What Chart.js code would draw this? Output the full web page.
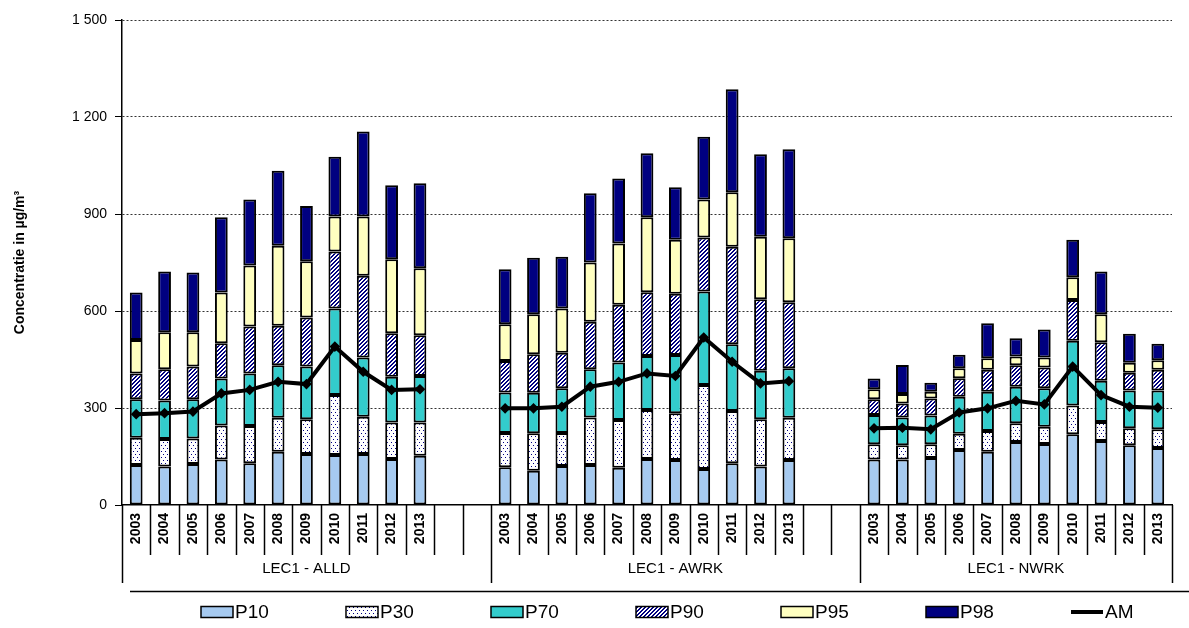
<!DOCTYPE html>
<html>
<head>
<meta charset="utf-8">
<script src="https://cdn.jsdelivr.net/npm/chart.js@4/dist/chart.umd.min.js"></script>
<style>
  html, body { margin: 0; padding: 0; background: #fff; }
  #wrap { width: 1189px; height: 628px; }
</style>
</head>
<body>
<div id="wrap"><canvas id="chart" width="1189" height="628"></canvas></div>
<script>
const years = ['2003', '2004', '2005', '2006', '2007', '2008', '2009', '2010', '2011', '2012', '2013'];
const groups = ['LEC1 - ALLD', 'LEC1 - AWRK', 'LEC1 - NWRK'];

// percentiles per year, group after group: ALLD, AWRK, NWRK (2003..2013 each)
const p10 = [124, 119, 127, 141, 129, 165, 158, 155, 158, 142, 152,
             117, 106, 121, 124, 115, 142, 139, 111, 129, 119, 139,
             141, 141, 145, 170, 165, 195, 189, 219, 198, 185, 176];
const p30 = [208, 204, 206, 246, 244, 270, 265, 340, 273, 255, 255,
             223, 222, 223, 271, 263, 294, 284, 371, 291, 265, 270,
             188, 185, 188, 220, 229, 253, 242, 308, 257, 237, 234];
const p70 = [327, 323, 327, 391, 407, 432, 428, 608, 456, 397, 399,
             348, 347, 361, 420, 441, 461, 464, 660, 497, 415, 423,
             278, 271, 277, 335, 350, 366, 361, 508, 384, 354, 354];
const p90 = [407, 420, 428, 500, 552, 554, 580, 784, 709, 531, 525,
             445, 466, 471, 567, 619, 658, 653, 827, 799, 636, 627,
             327, 314, 329, 392, 418, 432, 425, 634, 503, 409, 418];
const p95 = [510, 534, 534, 657, 741, 802, 754, 892, 892, 760, 732,
             559, 590, 608, 750, 809, 890, 820, 945, 967, 830, 825,
             358, 343, 350, 423, 454, 459, 456, 704, 590, 440, 448];
const p98 = [657, 722, 719, 890, 945, 1034, 925, 1077, 1155, 989, 995,
             729, 765, 768, 964, 1010, 1088, 983, 1139, 1286, 1085, 1100,
             391, 433, 378, 465, 562, 516, 543, 820, 722, 530, 499];
const am  = [281, 284, 289, 345, 356, 381, 374, 490, 412, 356, 358,
             299, 299, 304, 366, 381, 407, 399, 518, 443, 376, 383,
             237, 239, 234, 286, 299, 322, 311, 428, 340, 304, 301];

const seriesNames = ['P10', 'P30', 'P70', 'P90', 'P95', 'P98'];
const yMin = 0, yMax = 1500, yStep = 300;
const GAP = 2; // empty slots between groups

// x slots: years of each group, then 2 empty slots
const labels = [];
groups.forEach((g, gi) => {
  years.forEach(y => labels.push(y));
  if (gi < groups.length - 1) for (let k = 0; k < GAP; k++) labels.push('');
});

function toSlots(arr) {
  const out = [];
  groups.forEach((g, gi) => {
    years.forEach((y, yi) => out.push(arr[gi * years.length + yi]));
    if (gi < groups.length - 1) for (let k = 0; k < GAP; k++) out.push(null);
  });
  return out;
}

function dotPattern() {
  const c = document.createElement('canvas');
  c.width = 4; c.height = 6;
  const g = c.getContext('2d');
  g.fillStyle = '#fff'; g.fillRect(0, 0, 4, 6);
  g.fillStyle = '#000080';
  g.fillRect(1, 1, 1, 1); g.fillRect(3, 4, 1, 1);
  return g.createPattern(c, 'repeat');
}
function hatchPattern() {
  const c = document.createElement('canvas');
  c.width = 4; c.height = 4;
  const g = c.getContext('2d');
  g.fillStyle = '#fff'; g.fillRect(0, 0, 4, 4);
  g.fillStyle = '#000080';
  for (let y = 0; y < 4; y++) {
    g.fillRect((3 - y + 4) % 4, y, 1, 1);
    g.fillRect((4 - y + 4) % 4, y, 1, 1);
  }
  return g.createPattern(c, 'repeat');
}

const fills = ['#A6CAF0', dotPattern(), '#33CCCC', hatchPattern(), '#FFFFC0', '#000080'];
const pieces = [p10, p30, p70, p90, p95, p98].map(toSlots);

const barSets = pieces.map((cur, i) => ({
  label: seriesNames[i],
  data: cur.map((v, j) => v == null ? null : [i === 0 ? 0 : pieces[i - 1][j], v]),
  backgroundColor: fills[i],
  borderColor: '#000',
  borderWidth: 2,
  borderSkipped: false,
  barPercentage: 0.9,
  categoryPercentage: 0.5,
  order: 1
}));

const amSet = {
  type: 'line',
  label: 'AM',
  data: toSlots(am),
  borderColor: '#000',
  borderWidth: 4,
  pointStyle: 'rectRot',
  pointRadius: 2.5,
  pointBackgroundColor: '#000',
  pointBorderColor: '#000',
  spanGaps: false,
  tension: 0,
  order: 0
};

const fontFam = '"Liberation Sans", Arial, sans-serif';
Chart.defaults.font.family = fontFam;
Chart.defaults.color = '#000';

// group separators, group names, bottom rule
const groupAxis = {
  id: 'groupAxis',
  afterDraw(chart) {
    const ctx = chart.ctx, x = chart.scales.x, area = chart.chartArea;
    const n = labels.length;
    const edge = k => k === 0 ? area.left : k === n ? area.right
      : (x.getPixelForValue(k - 1) + x.getPixelForValue(k)) / 2;
    const starts = [0, years.length + GAP, 2 * (years.length + GAP)];
    ctx.save();
    ctx.strokeStyle = '#000';
    ctx.lineWidth = 1.5;
    for (let k = 0; k <= n; k++) {
      const long = k === 0 || k === n || starts.includes(k);
      const px = Math.round(edge(k)) + 0.5;
      ctx.beginPath();
      ctx.moveTo(px, area.bottom);
      ctx.lineTo(px, long ? 583 : 555);
      ctx.stroke();
    }
    ctx.beginPath();
    ctx.moveTo(130, 591.5);
    ctx.lineTo(1189, 591.5);
    ctx.stroke();
    ctx.font = '15px ' + fontFam;
    ctx.fillStyle = '#000';
    ctx.textAlign = 'center';
    ctx.textBaseline = 'middle';
    groups.forEach((g, gi) => {
      const a = edge(starts[gi]);
      const b = gi < groups.length - 1 ? edge(starts[gi + 1]) : area.right;
      ctx.fillText(g, (a + b) / 2, 569);
    });
    ctx.restore();
  }
};

const bottomLegend = {
  id: 'bottomLegend',
  afterDraw(chart) {
    const ctx = chart.ctx;
    ctx.save();
    ctx.font = '19px ' + fontFam;
    ctx.textBaseline = 'middle';
    ctx.textAlign = 'left';
    chart.data.datasets.forEach((ds, i) => {
      const bx = 201 + i * 145, cy = 612;
      if (ds.type === 'line') {
        ctx.strokeStyle = '#000';
        ctx.lineWidth = 4;
        ctx.beginPath();
        ctx.moveTo(bx, cy);
        ctx.lineTo(bx + 32, cy);
        ctx.stroke();
      } else {
        ctx.fillStyle = ds.backgroundColor;
        ctx.fillRect(bx, cy - 5.5, 32, 11);
        ctx.strokeStyle = '#000';
        ctx.lineWidth = 1.5;
        ctx.strokeRect(bx, cy - 5.5, 32, 11);
      }
      ctx.fillStyle = '#000';
      ctx.fillText(ds.label, bx + 34, cy + 1);
    });
    ctx.restore();
  }
};

new Chart(document.getElementById('chart'), {
  type: 'bar',
  data: { labels: labels, datasets: [...barSets, amSet] },
  options: {
    responsive: false,
    animation: false,
    devicePixelRatio: 1,
    layout: { padding: { left: 0, right: 17, top: 20, bottom: 37 } },
    plugins: {
      legend: { display: false },
      tooltip: { enabled: false }
    },
    scales: {
      x: {
        stacked: true,
        afterFit: s => { s.height = 86; },
        grid: { display: false, drawTicks: false },
        border: { display: true, color: '#000', width: 1.5 },
        ticks: {
          autoSkip: false,
          minRotation: 90,
          maxRotation: 90,
          padding: 8,
          font: { size: 14, weight: 'bold' },
          color: '#000'
        }
      },
      y: {
        min: yMin,
        max: yMax,
        afterFit: s => { s.width = 122; },
        ticks: {
          stepSize: yStep,
          padding: 8,
          font: { size: 14 },
          color: '#000',
          callback: v => String(v).replace(/\B(?=(\d{3})+(?!\d))/g, ' ')
        },
        grid: {
          color: c => c.tick && c.tick.value === 0 ? 'rgba(0,0,0,0)' : '#333',
          lineWidth: 1,
          tickLength: 7,
          tickColor: '#000',
          tickBorderDash: []
        },
        border: { display: true, color: '#000', width: 1.5, dash: [2, 2] },
        title: {
          display: true,
          text: 'Concentratie in µg/m³',
          font: { size: 14, weight: 'bold' },
          padding: { top: 12, bottom: 0 }
        }
      }
    }
  },
  plugins: [groupAxis, bottomLegend]
});
</script>
</body>
</html>
